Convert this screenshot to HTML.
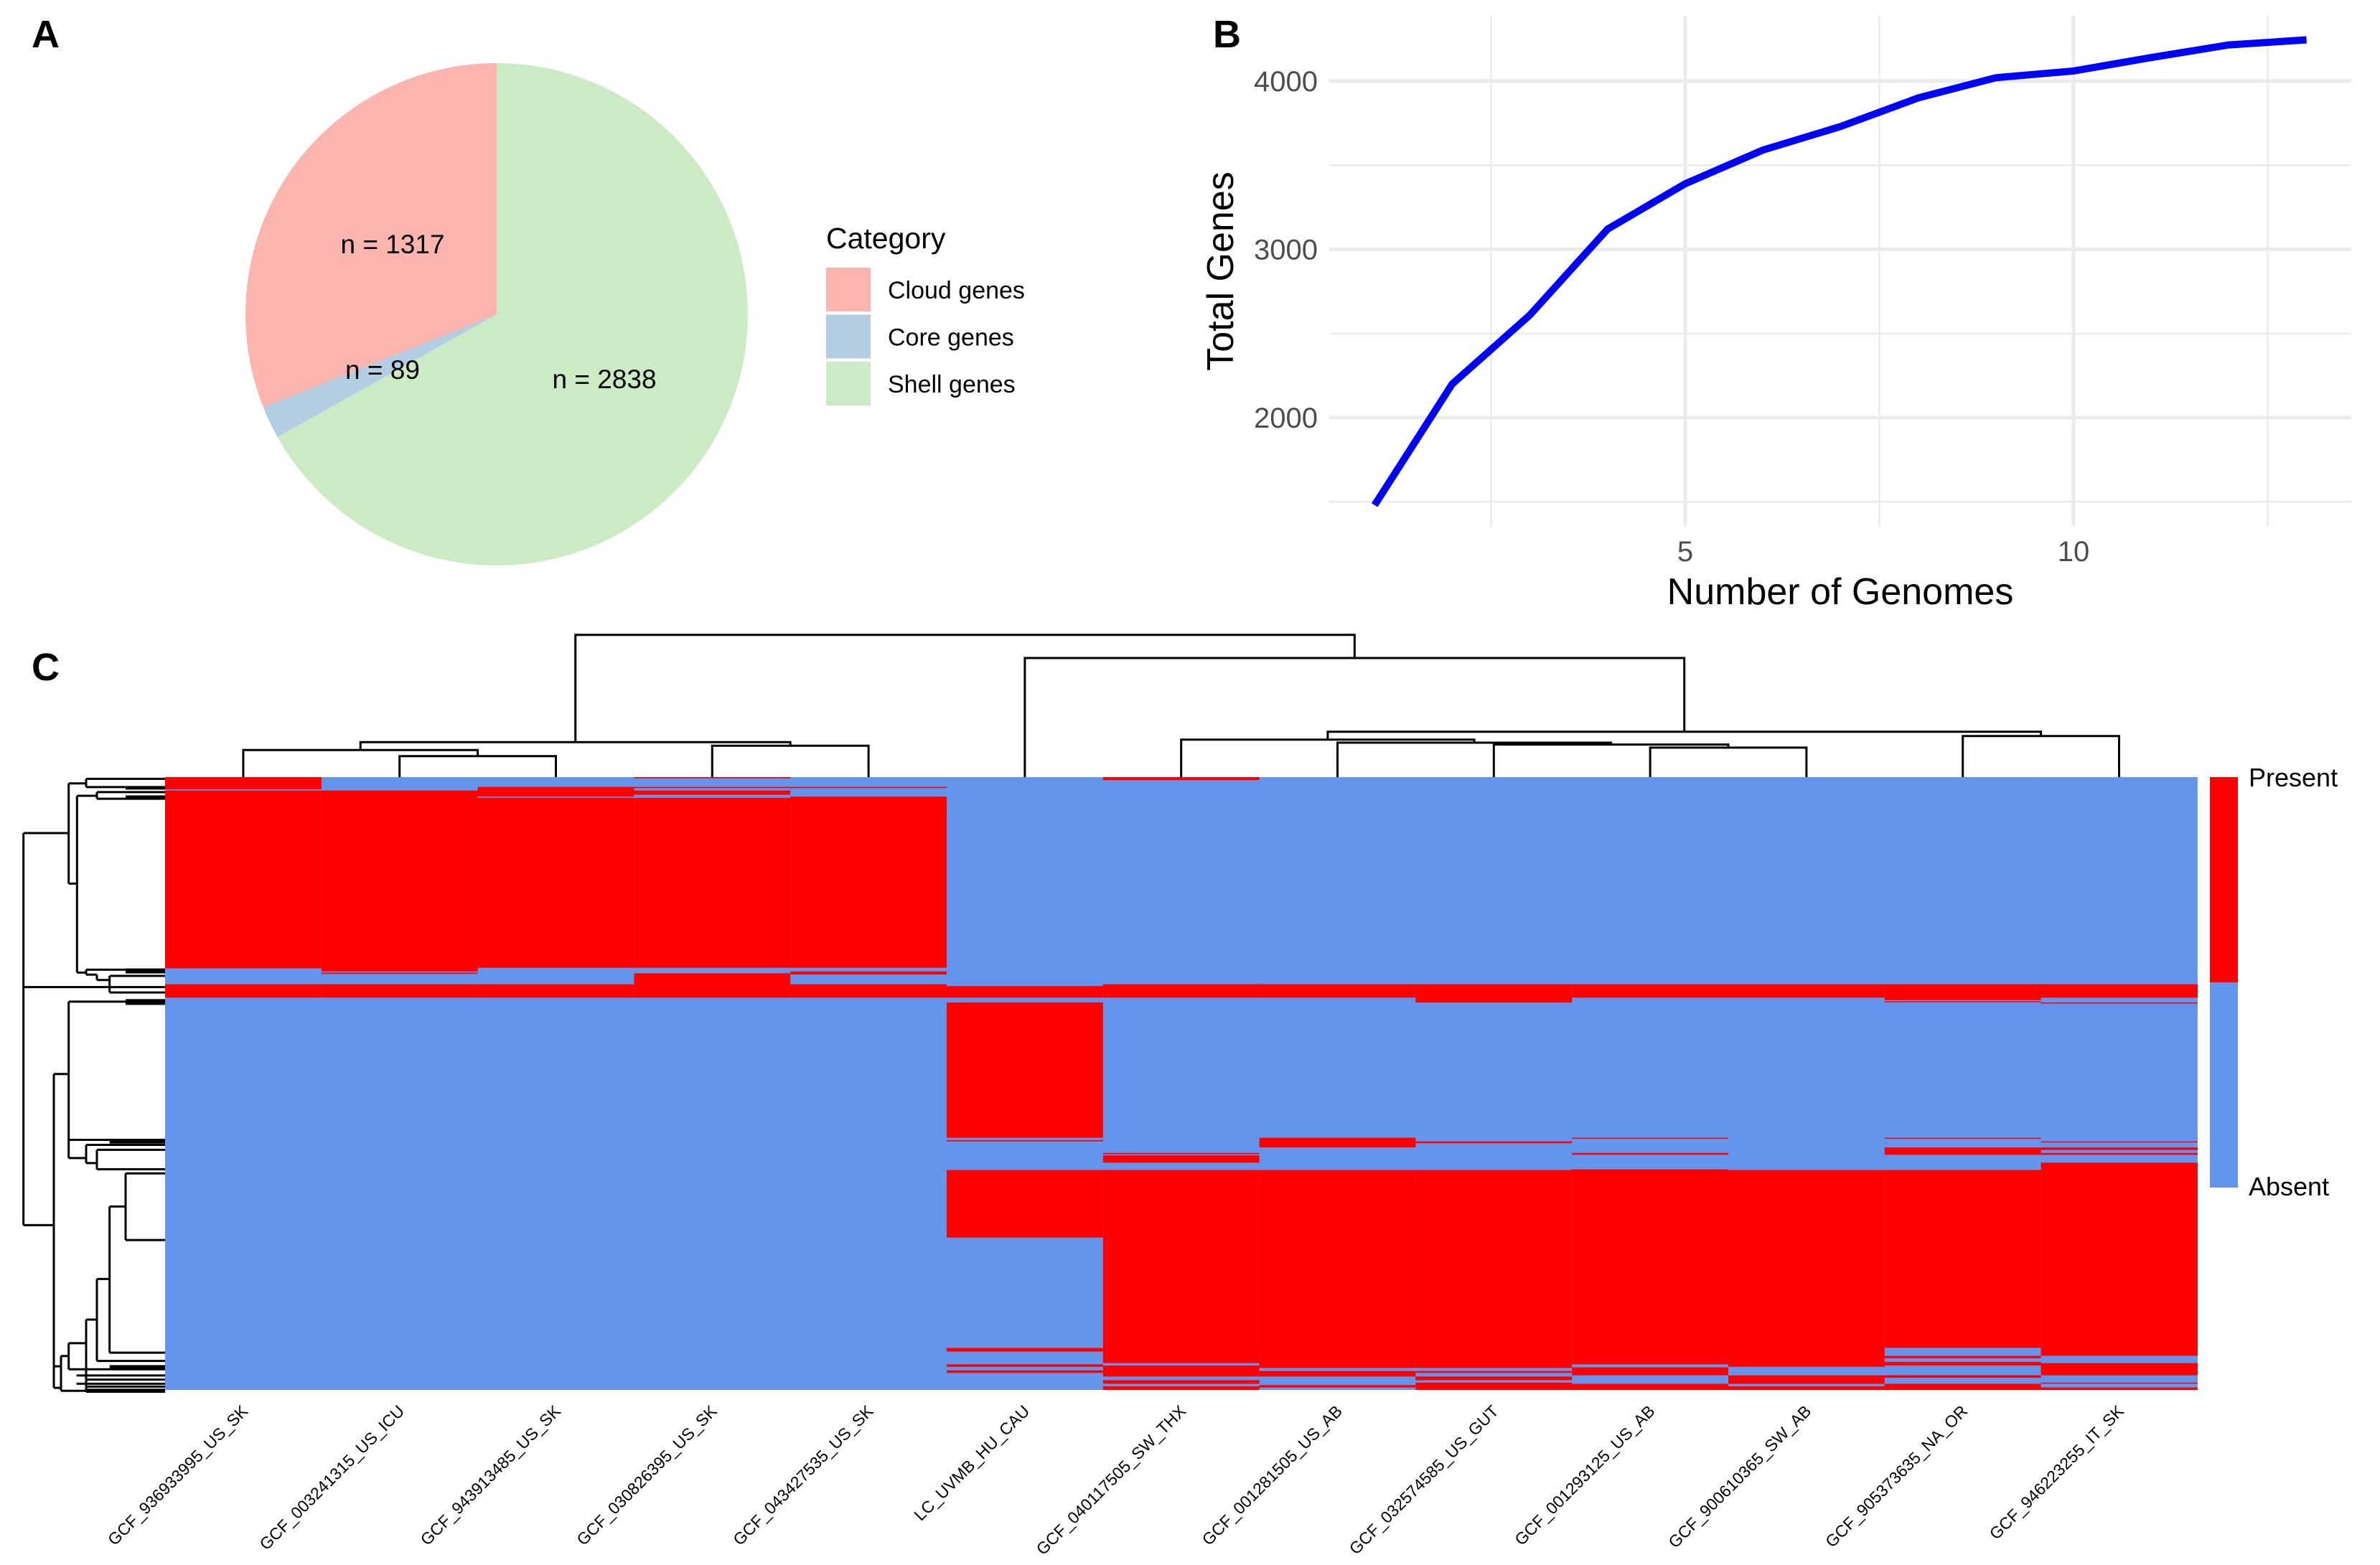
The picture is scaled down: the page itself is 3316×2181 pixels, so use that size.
<!DOCTYPE html>
<html><head><meta charset="utf-8"><style>
html,body{margin:0;padding:0;background:#fff;}
svg{display:block;font-family:"Liberation Sans",Arial,sans-serif;}
</style></head><body>
<svg id="fig" width="3316" height="2181" viewBox="0 0 3316 2181" xmlns="http://www.w3.org/2000/svg">
<rect width="3316" height="2181" fill="#fff"/>
<text x="44" y="66" font-size="54" font-weight="bold">A</text>
<text x="1690" y="66" font-size="54" font-weight="bold">B</text>
<text x="44" y="948" font-size="54" font-weight="bold">C</text>
<g id="pie"></g>
<g id="pielabels"></g>
<g id="pielegend">
<text x="1151" y="346" font-size="41">Category</text>
</g>
<g id="lineplot"></g>
<g id="heat"></g>
<g id="rowdend"></g>
<g id="coldend"></g>
<g>
<rect x="3079" y="1083" width="39" height="286" fill="#FF0000"/>
<rect x="3079" y="1369" width="39" height="286" fill="#6495ED"/>
<text x="3133" y="1096" font-size="36">Present</text>
<text x="3133" y="1666" font-size="36">Absent</text>
</g>
</svg>
<script>
const NS="http://www.w3.org/2000/svg";
// ---------- Panel A data ----------
const pieCategories=["Shell genes","Core genes","Cloud genes"];
const pieValues=[2838,89,1317];
const pieColors=["#CCEBC5","#B3CDE3","#FBB4AE"];
const legendOrder=["Cloud genes","Core genes","Shell genes"];
// ---------- Panel B data ----------
const genomeCounts=[1,2,3,4,5,6,7,8,9,10,11,12,13];
const totalGenes=[1480,2200,2610,3120,3390,3590,3730,3900,4020,4060,4140,4215,4245];
const yTicks=[2000,3000,4000];
const yMinor=[1500,2500,3500];
const xTicks=[5,10];
const xMinor=[2.5,7.5,12.5];
// ---------- Panel C data ----------
const genomes=["GCF_936933995_US_SK","GCF_003241315_US_ICU","GCF_943913485_US_SK","GCF_030826395_US_SK","GCF_043427535_US_SK","LC_UVMB_HU_CAU","GCF_040117505_SW_THX","GCF_001281505_US_AB","GCF_032574585_US_GUT","GCF_001293125_US_AB","GCF_900610365_SW_AB","GCF_905373635_NA_OR","GCF_946223255_IT_SK"];
const totalRows=1006;
const present0=[[0,20],[22,314],[340,362]];
const present1=[[22,319],[321,323],[340,362]];
const present2=[[16,32],[34,313],[340,362]];
const present3=[[0,2],[16,18],[22,29],[34,313],[322,362]];
const present4=[[16,18],[32,313],[319,324],[340,362]];
const present5=[[343,362],[370,592],[596,598],[645,756],[937,943],[964,968],[974,978]];
const present6=[[0,5],[340,362],[617,619],[621,633],[645,962],[966,984],[990,996],[1000,1006]];
const present7=[[340,362],[592,608],[645,970],[975,984],[998,1002]];
const present8=[[340,370],[598,601],[645,970],[975,978],[984,990],[994,1006]];
const present9=[[340,362],[592,593],[617,620],[644,964],[969,982],[996,1006]];
const present10=[[340,362],[645,968],[982,996],[1000,1006]];
const present11=[[340,366],[368,369],[592,593],[608,620],[645,937],[950,954],[960,966],[982,986],[996,1006]];
const present12=[[340,362],[370,371],[598,599],[608,612],[617,620],[633,950],[962,982],[994,995],[1002,1006]];
const presentIntervals=[present0,present1,present2,present3,present4,present5,present6,present7,present8,present9,present10,present11,present12];
const colMerges=[["L1","L2",34],["L0","M0",44],["L3","L4",51],["M1","M2",57],["L9","L10",48],["L8","M4",53],["L7","M5",56],["L6","M6",61],["L11","L12",67],["M7","M8",74],["L5","M9",195],["M3","M10",233]];

function el(tag,attrs,parent){const e=document.createElementNS(NS,tag);for(const k in attrs)e.setAttribute(k,attrs[k]);parent.appendChild(e);return e;}

// ---------- Pie ----------
(function(){
  const g=document.getElementById('pie');
  const lgp=document.getElementById('pielabels');
  const cx=692,cy=438,r=350;
  const total=pieValues.reduce((a,b)=>a+b,0);
  let acc=0;
  pieValues.forEach((v,i)=>{
    const a0=acc/total*2*Math.PI; acc+=v; const a1=acc/total*2*Math.PI;
    const x0=cx+r*Math.sin(a0),y0=cy-r*Math.cos(a0),x1=cx+r*Math.sin(a1),y1=cy-r*Math.cos(a1);
    const large=(a1-a0)>Math.PI?1:0;
    const p=el('path',{d:`M${cx},${cy}L${x0},${y0}A${r},${r} 0 ${large} 1 ${x1},${y1}Z`,fill:pieColors[i]},g);
    
    
    const am=(a0+a1)/2;
    let lx=cx+r*0.5*Math.sin(am), ly=cy-r*0.5*Math.cos(am)+12;
    if(i===0){lx=842;ly=541;} if(i===1){lx=533;ly=528;} if(i===2){lx=547;ly=353;}
    const t=el('text',{x:lx,y:ly,'font-size':37,'text-anchor':'middle'},lgp);
    t.textContent='n = '+v;
    
    
  });
  const lg=document.getElementById('pielegend');
  legendOrder.forEach((c,j)=>{
    const idx=pieCategories.indexOf(c);
    const y=373+j*65.5;
    const rc=el('rect',{x:1151,y:y,width:62,height:61,fill:pieColors[idx]},lg);
    
    
    const t=el('text',{x:1237,y:y+43,'font-size':34},lg);
    t.textContent=c;
    
    
  });
})();

// ---------- Line plot ----------
(function(){
  const g=document.getElementById('lineplot');
  const X=n=>2348+(n-5)*108.2;
  const Y=v=>113+(4000-v)*0.2345;
  const x0=1852,x1=3276,y0=22,y1=734;
  yMinor.forEach(v=>{const l=el('line',{x1:x0,x2:x1,y1:Y(v),y2:Y(v),stroke:'#EBEBEB','stroke-width':2.5},g);});
  xMinor.forEach(v=>{const l=el('line',{x1:X(v),x2:X(v),y1:y0,y2:y1,stroke:'#EBEBEB','stroke-width':2.5},g);});
  yTicks.forEach(v=>{
    const l=el('line',{x1:x0,x2:x1,y1:Y(v),y2:Y(v),stroke:'#EBEBEB','stroke-width':5},g);
    
    const t=el('text',{x:1836,y:Y(v)+14,'font-size':40,'text-anchor':'end',fill:'#4D4D4D'},g);
    t.textContent=v;
  });
  xTicks.forEach(v=>{
    const l=el('line',{x1:X(v),x2:X(v),y1:y0,y2:y1,stroke:'#EBEBEB','stroke-width':5},g);
    
    const t=el('text',{x:X(v),y:782,'font-size':40,'text-anchor':'middle',fill:'#4D4D4D'},g);
    t.textContent=v;
  });
  const pts=genomeCounts.map((n,i)=>X(n)+','+Y(totalGenes[i])).join(' ');
  const pl=el('polyline',{points:pts,fill:'none',stroke:'#0000FF','stroke-width':10,'stroke-linejoin':'round'},g);
  
  const xt=el('text',{x:2564,y:842,'font-size':52,'text-anchor':'middle'},g);
  xt.textContent='Number of Genomes';
  const yt=el('text',{x:0,y:0,'font-size':52,'text-anchor':'middle',transform:'translate(1718,378) rotate(-90)'},g);
  yt.textContent='Total Genes';
})();

// ---------- Heatmap ----------
(function(){
  const g=document.getElementById('heat');
  const left=230,colW=217.8,top=1083,bottom=1937;
  const RY=r=>top+(bottom-top)*r/totalRows;
  genomes.forEach((name,c)=>{
    const bg=el('rect',{x:left+c*colW,y:top,width:colW+0.5,height:bottom-top,fill:'#6495ED'},g);
    
    presentIntervals[c].forEach(iv=>{
      const rc=el('rect',{x:left+c*colW,y:RY(iv[0]),width:colW+0.5,height:Math.max(1.5,RY(iv[1])-RY(iv[0])),fill:'#FF0000'},g);
      
    });
    const cxp=left+(c+0.5)*colW;
    const t=el('text',{x:0,y:0,'font-size':23,'text-anchor':'end',transform:`translate(${cxp+8},${1968}) rotate(-45)`},g);
    t.textContent=name;
  });
  const dg=document.getElementById('coldend');
  const H=h=>1082.6-0.849*h;
  const info={};
  const get=k=>{if(k[0]==='L'){const i=+k.slice(1);return {x:left+(i+0.5)*colW,y:top};}return info[k];};
  colMerges.forEach((m,i)=>{
    const a=get(m[0]),b=get(m[1]),y=H(m[2]);
    const p=el('path',{d:`M${a.x},${a.y}V${y}H${b.x}V${b.y}`,fill:'none',stroke:'#000','stroke-width':3},dg);
    
    info['M'+i]={x:(a.x+b.x)/2,y:y};
  });
  const rg=document.getElementById('rowdend');
  const sx=d=>d/3, sy=d=>1060+0.577*d;
  const segs=[
   [98,175,98,1122],[98,175,287,175],[98,547,690,547],[98,1122,225,1122],
   [287,55,287,297],[287,55,360,55],[360,44,360,64],[360,44,690,44],[360,64,690,64],
   [287,297,322,297],[322,85,322,512],[322,85,405,85],[405,76,405,92],[405,76,690,76],[405,92,690,92],
   [322,512,360,512],[360,505,360,517],[360,505,690,505],[360,517,405,517],[405,517,405,530],[405,530,458,530],[458,520,458,560],[458,520,690,520],[458,560,690,560],
   [225,757,225,1515],[225,757,287,757],[287,582,287,960],[287,582,690,582],[287,916,690,916],[287,960,360,960],[360,928,360,972],[360,928,690,928],[360,972,405,972],[405,940,405,987],[405,940,690,940],[405,987,690,987],
   [225,1463,255,1463],[255,1438,255,1522],[255,1438,287,1438],[287,1407,287,1470],[287,1407,360,1407],[360,1350,360,1525],[360,1350,405,1350],[405,1252,405,1450],[405,1252,458,1252],[458,1077,458,1430],[458,1077,525,1077],[525,997,525,1158],[525,997,690,997],[525,1158,690,1158],[458,1430,690,1430],[405,1450,690,1450],[287,1470,690,1470],[255,1522,690,1522],[225,1515,255,1515],
   [320,1485,690,1485],[360,1495,690,1495],[320,1505,690,1505],[360,1512,690,1512]
  ];
  let d='';segs.forEach(s=>{d+=`M${sx(s[0])},${sy(s[1])}L${sx(s[2])},${sy(s[3])}`;});
  const rp=el('path',{d:d,fill:'none',stroke:'#000','stroke-width':3},rg);
  
  [[525,62,690,70],[525,84,690,92],[525,502,690,514],[525,576,690,590],[458,915,690,925],[458,1460,690,1470],[360,1517,690,1527]].forEach(b=>{
    const r=el('rect',{x:sx(b[0]),y:sy(b[1]),width:sx(b[2])-sx(b[0]),height:sy(b[3])-sy(b[1]),fill:'#000'},rg);
    
  });
})();
</script>
</body></html>
